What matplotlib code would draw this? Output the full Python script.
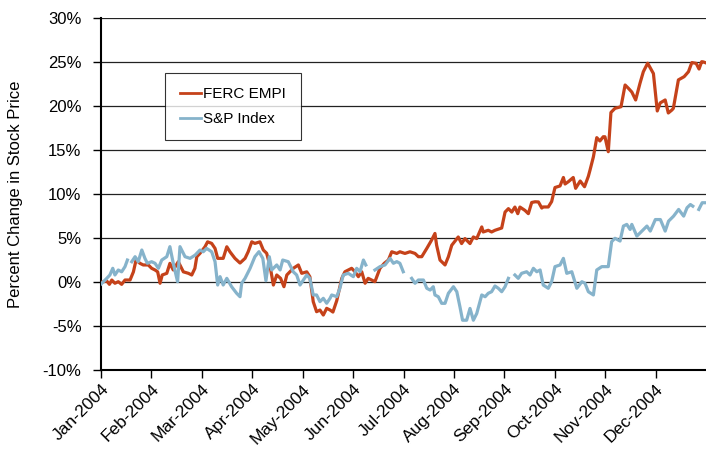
import numpy as np
import matplotlib
matplotlib.use("Agg")
import matplotlib.pyplot as plt
from matplotlib.ticker import FuncFormatter

plt.rcParams['font.family'] = ['Liberation Sans', 'DejaVu Sans']

months = ["Jan-2004", "Feb-2004", "Mar-2004", "Apr-2004", "May-2004", "Jun-2004",
          "Jul-2004", "Aug-2004", "Sep-2004", "Oct-2004", "Nov-2004", "Dec-2004"]

# trading-day index (0..252) and percent change
ferc_day = [0, 2.4, 3.5, 4.5, 5.8, 7.2, 8.6, 10.0, 12.1, 13.5, 14.6, 16.2, 17.6, 19.7, 21.1,
            22.5, 23.6, 24.6, 25.5, 27.4, 28.7, 30.1, 32.2, 34.3, 36.4, 37.8, 39.1, 39.9,
            41.2, 43.3, 44.4, 46.1, 47.5, 48.6, 50.9, 52.4, 53.7, 55.8, 57.9, 60.0, 61.3,
            62.8, 64.1, 66.2, 67.6, 69.0, 70.4, 71.8, 73.2, 74.8, 76.2, 77.4, 80.1, 82.2,
            83.6, 85.7, 87.0, 88.4, 89.8, 91.2, 92.6, 94.0, 95.4, 96.6, 98.2, 99.5, 100.3,
            101.6, 104.4, 105.8, 107.2, 108.6, 110.0, 111.3, 112.7, 114.1, 116.2, 118.0,
            119.7, 121.1, 123.2, 124.5, 126.6, 128.7, 130.8, 132.2, 133.6, 135.7, 137.7,
            139.1, 139.8, 141.2, 143.3, 144.7, 146.1, 148.8, 150.2, 151.6, 153.7, 155.1,
            156.5, 158.6, 159.2, 161.3, 162.7, 164.1, 166.9, 168.3, 169.7, 171.1, 172.4,
            173.6, 174.5, 176.6, 178.0, 179.4, 180.8, 182.2, 183.6, 184.2, 186.3, 187.7,
            189.1, 191.2, 192.6, 193.3, 194.7, 196.7, 197.7, 199.6, 201.4, 203.0, 203.7,
            205.1, 206.5, 207.8, 209.2, 209.9, 211.3, 212.4, 214.1, 216.6, 218.3, 219.7,
            221.1, 222.7, 224.5, 225.9, 227.7, 229.7, 230.1, 231.7, 232.9, 235.0, 236.3,
            237.8, 238.4, 240.5, 242.9, 244.7, 246.1, 247.9, 249.1, 250.2, 250.9, 252.0]
ferc_pct = [0.0, 0.15, -0.23, 0.26, -0.11, 0.07, -0.23, 0.26, 0.26, 1.19, 2.53, 2.16, 1.97,
            1.97, 1.59, 1.40, 1.19, -0.11, 0.83, 1.02, 2.15, 1.40, 2.34, 1.19, 1.02, 0.83,
            1.58, 2.91, 3.28, 4.03, 4.60, 4.42, 3.85, 2.72, 2.72, 4.04, 3.47, 2.72, 2.19,
            2.72, 3.47, 4.60, 4.42, 4.60, 3.67, 3.30, 1.88, -0.31, 0.83, 0.45, -0.50, 0.83,
            1.59, 1.97, 1.02, 1.19, 0.63, -2.20, -3.34, -3.15, -3.72, -2.96, -3.15, -3.38,
            -2.08, -0.50, 0.45, 1.20, 1.59, 1.20, 0.64, 1.20, -0.11, 0.45, 0.26, 0.07, 1.59,
            2.16, 2.53, 3.47, 3.28, 3.47, 3.28, 3.47, 3.28, 2.91, 2.91, 3.85, 4.79, 5.55,
            4.21, 2.53, 1.97, 2.91, 4.21, 5.15, 4.40, 4.97, 4.40, 5.15, 4.97, 6.29, 5.72,
            5.91, 5.72, 5.91, 6.17, 7.98, 8.37, 7.98, 8.55, 7.80, 8.55, 8.17, 7.80, 9.07,
            9.15, 9.13, 8.44, 8.56, 8.56, 9.17, 10.77, 10.95, 11.91, 11.17, 11.44, 11.91,
            10.68, 11.51, 10.86, 12.05, 12.76, 14.26, 16.44, 16.06, 16.54, 16.54, 14.84,
            19.30, 19.77, 19.95, 22.42, 22.04, 21.62, 20.72, 22.61, 23.93, 24.90, 23.93,
            23.72, 19.47, 20.38, 20.72, 19.24, 19.58, 19.77, 23.00, 23.37, 23.93, 24.97,
            24.88, 24.24, 25.07, 25.04, 24.93]

sp_day = [0, 2.4, 3.7, 4.9, 5.8, 7.2, 8.6, 10.0, 11.0, 11.9, 12.8, 14.2, 15.5, 17.0, 18.3,
          19.3, 21.1, 22.5, 23.9, 25.3, 27.4, 28.7, 30.1, 31.9, 32.9, 35.0, 37.1, 39.2,
          41.2, 42.6, 44.0, 46.1, 47.5, 48.6, 49.6, 50.9, 52.4, 54.4, 56.5, 57.9, 58.6,
          60.0, 62.1, 64.1, 65.8, 67.4, 68.7, 70.1, 71.1, 73.2, 74.6, 75.7, 78.0, 80.1,
          81.5, 82.9, 84.3, 85.7, 87.0, 88.4, 89.8, 91.2, 92.6, 94.0, 95.4, 96.1, 98.2,
          99.5, 100.9, 103.0, 105.1, 106.5, 107.9, 109.3, 110.3, 112.0, 114.1, 116.2,
          118.3, 120.4, 121.8, 123.2, 124.5, 125.9, 127.5, 129.4, 130.8, 132.2, 134.3,
          135.7, 137.1, 138.4, 139.1, 140.5, 141.9, 143.3, 144.7, 146.8, 148.2, 149.5,
          150.6, 152.3, 153.7, 155.1, 156.5, 158.6, 160.0, 161.3, 162.7, 164.1, 165.5,
          166.9, 168.3, 169.7, 171.0, 172.4, 173.8, 175.2, 177.3, 178.7, 180.1, 181.5,
          182.9, 184.2, 186.3, 187.7, 189.1, 191.2, 192.6, 194.0, 196.1, 198.2, 200.3,
          201.6, 203.0, 205.1, 206.5, 208.6, 211.3, 212.7, 214.1, 216.2, 217.6, 219.0,
          220.4, 221.1, 223.2, 225.3, 227.4, 228.8, 230.9, 233.0, 235.0, 236.4, 238.5,
          240.6, 242.7, 244.1, 245.5, 246.5, 247.8, 249.0, 250.4, 252.0]
sp_pct = [-0.2, 0.45, 0.83, 1.59, 0.83, 1.40, 1.19, 1.78, 2.53, np.nan, 2.34, 2.91, 2.34,
          3.67, 2.72, 2.16, 2.34, 2.16, 1.59, 2.53, 2.91, 4.05, 2.16, 0.07, 4.05, 2.91,
          2.72, 3.09, 3.66, 3.47, 3.85, 3.47, 2.34, -0.31, 0.64, -0.31, 0.45, -0.50,
          -1.25, -1.64, -0.11, 0.45, 1.59, 2.91, 3.48, 2.72, 0.18, 2.91, 1.40, 1.97, 1.40,
          2.53, 2.34, 1.19, 0.83, -0.31, 0.26, 0.83, 0.45, -1.44, -1.44, -2.20, -1.82,
          -2.38, -1.82, -1.44, -1.63, -0.68, 0.83, 1.02, 0.64, 1.59, 1.20, 2.53, 1.97,
          np.nan, 1.40, 1.78, 1.97, 2.72, 2.16, 2.35, 2.16, 1.20, np.nan, 0.45, -0.11,
          0.26, 0.26, -0.68, -0.88, -0.50, -1.44, -1.64, -2.39, -2.39, -1.25, -0.50,
          -1.07, -2.77, -4.31, -4.31, -2.97, -4.31, -3.55, -1.44, -1.64, -1.25, -1.07,
          -0.42, -0.68, -1.07, -0.50, 0.45, np.nan, 0.83, 0.45, 1.02, 1.20, 0.83, 1.59,
          1.20, 1.40, -0.31, -0.68, 0.07, 1.78, 1.97, 2.72, 1.02, 1.20, -0.68, 0.07,
          -0.11, -1.07, -1.44, 1.40, 1.78, 1.78, 4.62, 5.00, 4.69, 6.39, 6.58, 6.00,
          6.58, 5.25, 5.82, 6.39, 5.82, 7.13, 7.13, 5.82, 6.95, 7.52, 8.28, 7.52, 8.47,
          8.84, 8.65, np.nan, 8.28, 9.04, 9.04]

ferc_color = "#C5421A"
sp_color = "#86B3CB"

fig = plt.figure(figsize=(7.06, 4.51), dpi=100)
ax = fig.add_axes([101 / 706, 1 - 370.3 / 451, 605 / 706, (370.3 - 18.3) / 451])

ax.plot(ferc_day, ferc_pct, color=ferc_color, lw=2.3, label="FERC EMPI", zorder=3,
        solid_joinstyle="round")
ax.plot(sp_day, sp_pct, color=sp_color, lw=2.3, label="S&P Index", zorder=3,
        solid_joinstyle="round")

ax.set_xlim(0, 252)
ax.set_ylim(-10, 30)
ax.set_yticks(np.arange(-10, 31, 5))
ax.yaxis.set_major_formatter(FuncFormatter(lambda v, p: f"{int(round(v))}%"))
ax.set_xticks(np.arange(12) * 21)
ax.set_xticklabels(months, rotation=45, ha="right", rotation_mode="anchor", fontsize=12.5)
ax.tick_params(axis="y", labelsize=12, direction="out", length=6, width=1, pad=8)
ax.tick_params(axis="x", direction="out", length=6, width=1, pad=2)

ax.grid(axis="y", color="#222222", lw=0.9)
ax.set_axisbelow(True)
for s in ["top", "right"]:
    ax.spines[s].set_visible(False)
for s in ["left", "bottom"]:
    ax.spines[s].set_color("black")
    ax.spines[s].set_linewidth(1.5)

ax.set_ylabel("Percent Change in Stock Price", fontsize=12, labelpad=14)

leg = ax.legend(loc="upper left", bbox_to_anchor=(165 / 706, 1 - 72.7 / 451),
                bbox_transform=fig.transFigure, frameon=True, fancybox=False,
                edgecolor="black", fontsize=11, handlelength=1.4, handletextpad=0.15,
                borderpad=0.95, labelspacing=0.7, borderaxespad=0)
leg.get_frame().set_linewidth(0.8)
for l in leg.get_lines():
    l.set_linewidth(2)

fig.savefig("out.png", dpi=100)
